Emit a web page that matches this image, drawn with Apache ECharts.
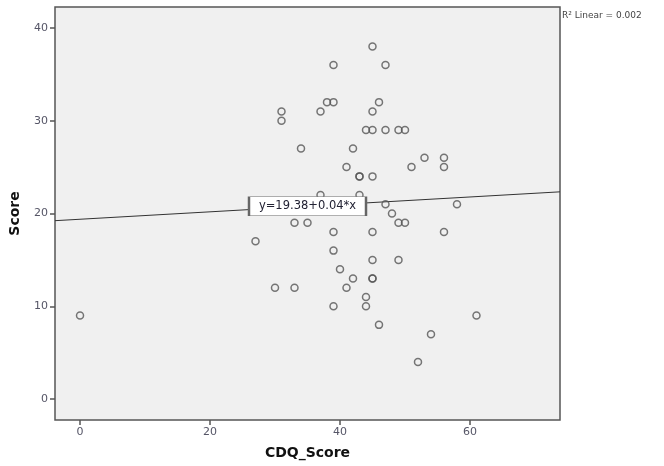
<!DOCTYPE html>
<html>
<head>
<meta charset="utf-8">
<script src="https://cdn.jsdelivr.net/npm/echarts@6/dist/echarts.min.js"></script>
<style>
  html, body { margin: 0; padding: 0; background: #fff; }
  #chart { width: 664px; height: 466px; }
</style>
</head>
<body>
<div id="chart"></div>
<script>
  // CDQ_Score / Score pairs
  const cdqScore = [
    0, 27, 30, 33, 31, 31, 34, 33, 35, 37, 37, 38, 39, 39, 39, 39, 39, 40,
    41, 41, 42, 42, 43, 43, 43, 44, 44, 44, 45, 45, 45, 45, 45, 45, 45, 45,
    46, 46, 47, 47, 47, 48, 49, 49, 49, 50, 50, 51, 52, 53, 54, 56, 56, 56,
    58, 61,
  ];
  const score = [
    9, 17, 12, 12, 31, 30, 27, 19, 19, 31, 22, 32, 32, 36, 18, 16, 10, 14,
    25, 12, 27, 13, 24, 24, 22, 29, 11, 10, 38, 31, 29, 24, 18, 15, 13, 13,
    32, 8, 36, 29, 21, 20, 29, 19, 15, 29, 19, 25, 4, 26, 7, 26, 25, 18,
    21, 9,
  ];
  const xTicks = [0, 20, 40, 60];
  const yTicks = [0, 10, 20, 30, 40];
  const fitIntercept = 19.38;
  const fitSlope = 0.04;
  const rSquared = "0.002";

  const xMin = -3.85, xMax = 73.85;
  const yMin = -2.25, yMax = 42.25;

  var myChart = echarts.init(document.getElementById("chart"));

  const points = cdqScore.map((x, i) => [x, score[i]]);
  const fitLine = [
    [xMin, fitIntercept + fitSlope * xMin],
    [xMax, fitIntercept + fitSlope * xMax],
  ];
  const labelX = (xMin + xMax) / 2;

  const axisLabelStyle = {
    color: "#556",
    fontSize: 11,
    fontFamily: "DejaVu Sans",
  };

  option = {
    backgroundColor: "#fff",
    animation: false,
    grid: {
      left: 55,
      top: 7,
      right: 104,
      bottom: 46,
      show: true,
      backgroundColor: "#f0f0f0",
      borderColor: "#555",
      borderWidth: 1.5,
    },
    graphic: [
      {
        type: "text",
        left: 562,
        top: 11,
        style: {
          text: "R² Linear = " + rSquared,
          fill: "#444",
          fontSize: 9,
          fontFamily: "DejaVu Sans",
        },
      },
    ],
    xAxis: {
      type: "value",
      min: xMin,
      max: xMax,
      name: "CDQ_Score",
      nameLocation: "middle",
      nameGap: 26,
      nameTextStyle: {
        color: "#111",
        fontSize: 14,
        fontWeight: "bold",
        fontFamily: "DejaVu Sans",
      },
      axisLine: { show: false, onZero: false },
      axisTick: {
        show: true,
        length: 5,
        customValues: xTicks,
        lineStyle: { color: "#555", width: 1.5 },
      },
      axisLabel: Object.assign({ customValues: xTicks, margin: 7 }, axisLabelStyle),
      splitLine: { show: false },
    },
    yAxis: {
      type: "value",
      min: yMin,
      max: yMax,
      name: "Score",
      nameLocation: "middle",
      nameGap: 33,
      nameTextStyle: {
        color: "#111",
        fontSize: 14,
        fontWeight: "bold",
        fontFamily: "DejaVu Sans",
      },
      axisLine: { show: false, onZero: false },
      axisTick: {
        show: true,
        length: 5,
        customValues: yTicks,
        lineStyle: { color: "#555", width: 1.5 },
      },
      axisLabel: Object.assign({ customValues: yTicks, margin: 7 }, axisLabelStyle),
      splitLine: { show: false },
    },
    series: [
      {
        name: "Fit",
        type: "line",
        data: fitLine,
        showSymbol: false,
        clip: true,
        lineStyle: { color: "#333", width: 1 },
        silent: true,
        z: 2,
        markPoint: {
          symbol: "rect",
          symbolSize: [117, 19],
          itemStyle: {
            color: "#fff",
            borderColor: "#666",
            borderWidth: 1,
          },
          label: {
            show: true,
            position: "inside",
            formatter: "y=" + fitIntercept + "+" + fitSlope + "*x",
            color: "#223",
            fontSize: 11.5,
            fontFamily: "DejaVu Sans",
          },
          data: [{ coord: [labelX, fitIntercept + fitSlope * labelX] }],
        },
      },
      {
        name: "Score",
        type: "scatter",
        data: points,
        symbol: "circle",
        symbolSize: 7,
        itemStyle: {
          color: "transparent",
          borderColor: "#555",
          borderWidth: 1.5,
        },
        z: 3,
      },
    ],
  };

  myChart.setOption(option, true);
</script>
</body>
</html>
